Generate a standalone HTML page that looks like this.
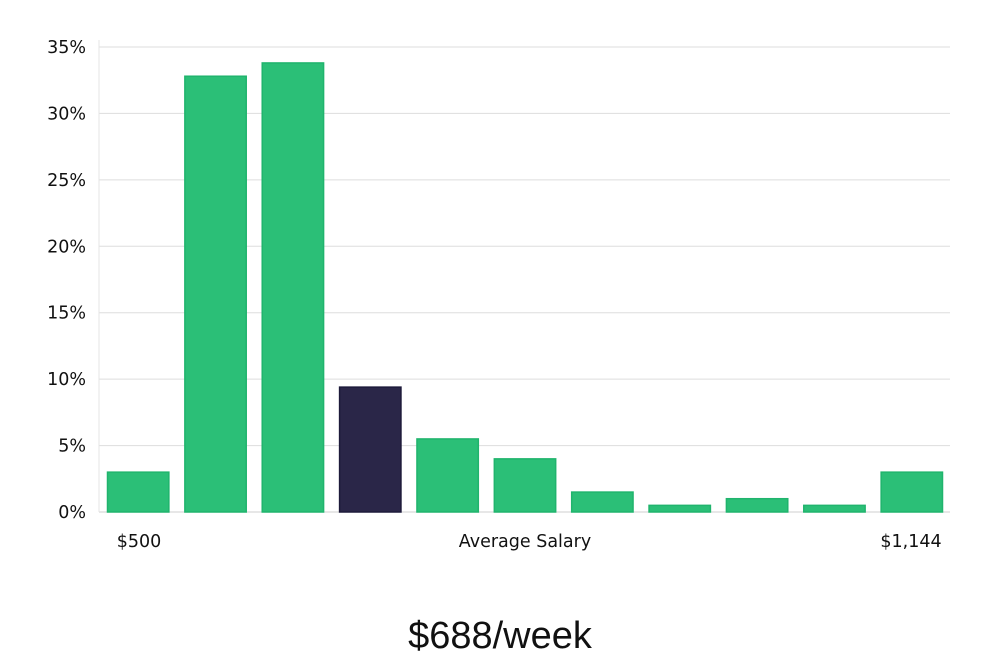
<!DOCTYPE html>
<html><head><meta charset="utf-8"><style>
html,body{margin:0;padding:0;background:#fff;}
svg{display:block;}
.tick{font-family:"DejaVu Sans",sans-serif;font-size:17.5px;fill:#111;}
.title{font-family:"Liberation Sans",sans-serif;font-size:38px;fill:#111;}
</style></head><body>
<svg id="chart" width="1000" height="660" viewBox="0 0 1000 660">
<g id="grid"></g>
<g id="bars"></g>
<g id="ylabels"></g>
<text class="tick" x="139" y="547" text-anchor="middle">$500</text>
<text class="tick" x="525" y="547" text-anchor="middle">Average Salary</text>
<text class="tick" x="911" y="547" text-anchor="middle">$1,144</text>
<text class="title" x="500" y="648" text-anchor="middle">$688/week</text>
</svg>
<script>
const categories = ["b1","b2","b3","b4","b5","b6","b7","b8","b9","b10","b11"];
const values = [3, 32.8, 33.8, 9.4, 5.5, 4, 1.5, 0.5, 1, 0.5, 3];
const highlightIndex = 3;
const yTicks = [0,5,10,15,20,25,30,35];
const yTickLabels = ["0%","5%","10%","15%","20%","25%","30%","35%"];

const NS="http://www.w3.org/2000/svg";
const left=99,right=950,y0=512,yTop=47,yMax=35;
const y=v=>y0-(v/yMax)*(y0-yTop);
const slot=(right-left)/categories.length;
const x=i=>left+i*slot;
const grid=document.getElementById('grid'),bars=document.getElementById('bars'),yl=document.getElementById('ylabels');
yTicks.forEach((t,i)=>{
  const l=document.createElementNS(NS,'line');
  
  
  l.setAttribute('x1',left);l.setAttribute('x2',right);
  l.setAttribute('y1',y(t));l.setAttribute('y2',y(t));
  l.setAttribute('stroke',t===0?'#cfcfcf':'#dddddd');l.setAttribute('stroke-width','1');
  grid.appendChild(l);
  const tx=document.createElementNS(NS,'text');
  
  
  tx.setAttribute('class','tick');tx.setAttribute('x',86);tx.setAttribute('y',y(t)+6);
  tx.setAttribute('text-anchor','end');tx.textContent=yTickLabels[i];
  yl.appendChild(tx);
});
const ax=document.createElementNS(NS,'line');


ax.setAttribute('x1',left);ax.setAttribute('x2',left);ax.setAttribute('y1',40);ax.setAttribute('y2',y0);
ax.setAttribute('stroke','#e4e4e4');grid.appendChild(ax);
values.forEach((v,i)=>{
  const r=document.createElementNS(NS,'rect');
  
  
  const hl=i===highlightIndex;
  r.setAttribute('x',x(i)+8.5);r.setAttribute('width',slot-16);
  r.setAttribute('y',y(v));r.setAttribute('height',y0-y(v));
  r.setAttribute('fill',hl?'#2a2648':'#2bbf77');
  r.setAttribute('stroke',hl?'#1d1a3a':'#20b46d');r.setAttribute('stroke-width','1.5');
  bars.appendChild(r);
});
</script>
</body></html>
